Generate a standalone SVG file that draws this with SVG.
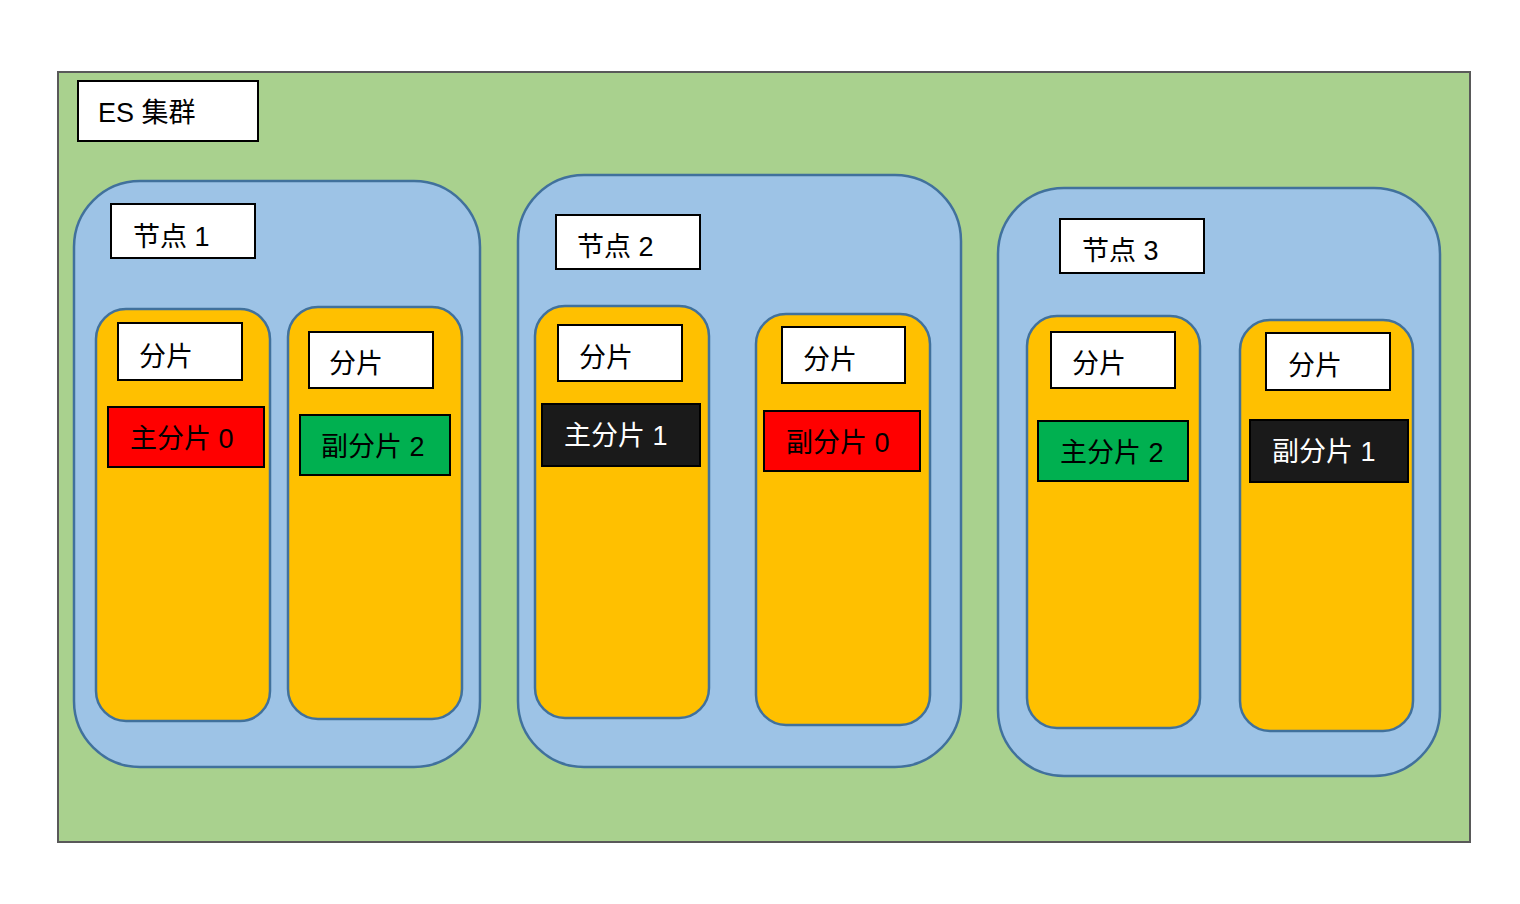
<svg xmlns="http://www.w3.org/2000/svg" width="1520" height="904" viewBox="0 0 1520 904">
<style>
.cluster{fill:#a9d18e;stroke:#595959;stroke-width:2}
.node{fill:#9dc3e6;stroke:#41719c;stroke-width:2.5}
.shard{fill:#ffc000;stroke:#41719c;stroke-width:2.5}
.lbl{fill:#ffffff;stroke:#000000;stroke-width:2}
.red{fill:#ff0000;stroke:#000000;stroke-width:2}
.green{fill:#00b050;stroke:#000000;stroke-width:2}
.black{fill:#1a1a1a;stroke:#000000;stroke-width:2}
text{font-family:"Liberation Sans","Noto Sans CJK SC",sans-serif;font-size:27px;fill:#000000}
.wt{fill:#ffffff}
</style>
<rect width="1520" height="904" fill="#ffffff"/>
<g id="cluster">
<rect class="cluster" x="58" y="72" width="1412" height="770"/>
<rect class="lbl" x="78" y="81" width="180" height="60"/>
<text x="98" y="122">ES 集群</text>
</g>
<g id="node1">
<rect class="node" x="74" y="181" width="406" height="586" rx="66" ry="66"/>
<rect class="lbl" x="111" y="204" width="144" height="54"/>
<text x="133" y="246">节点 1</text>
</g>
<g id="node1-shardA">
<rect class="shard" x="96" y="309" width="174" height="412" rx="30" ry="30"/>
<rect class="lbl" x="118" y="323" width="124" height="57"/>
<text x="139" y="366">分片</text>
<rect class="red" x="108" y="407" width="156" height="60"/>
<text x="130" y="448">主分片 0</text>
</g>
<g id="node1-shardB">
<rect class="shard" x="288" y="307" width="174" height="412" rx="30" ry="30"/>
<rect class="lbl" x="309" y="332" width="124" height="56"/>
<text x="329" y="373">分片</text>
<rect class="green" x="300" y="415" width="150" height="60"/>
<text x="321" y="456">副分片 2</text>
</g>
<g id="node2">
<rect class="node" x="518" y="175" width="443" height="592" rx="66" ry="66"/>
<rect class="lbl" x="556" y="215" width="144" height="54"/>
<text x="577" y="256">节点 2</text>
</g>
<g id="node2-shardA">
<rect class="shard" x="535" y="306" width="174" height="412" rx="30" ry="30"/>
<rect class="lbl" x="558" y="325" width="124" height="56"/>
<text x="579" y="367">分片</text>
<rect class="black" x="542" y="404" width="158" height="62"/>
<text class="wt" x="564" y="445">主分片 1</text>
</g>
<g id="node2-shardB">
<rect class="shard" x="756" y="314" width="174" height="411" rx="30" ry="30"/>
<rect class="lbl" x="782" y="327" width="123" height="56"/>
<text x="803" y="369">分片</text>
<rect class="red" x="764" y="411" width="156" height="60"/>
<text x="786" y="452">副分片 0</text>
</g>
<g id="node3">
<rect class="node" x="998" y="188" width="442" height="588" rx="66" ry="66"/>
<rect class="lbl" x="1060" y="219" width="144" height="54"/>
<text x="1082" y="260">节点 3</text>
</g>
<g id="node3-shardA">
<rect class="shard" x="1027" y="316" width="173" height="412" rx="30" ry="30"/>
<rect class="lbl" x="1051" y="332" width="124" height="56"/>
<text x="1072" y="373">分片</text>
<rect class="green" x="1038" y="421" width="150" height="60"/>
<text x="1060" y="462">主分片 2</text>
</g>
<g id="node3-shardB">
<rect class="shard" x="1240" y="320" width="173" height="411" rx="30" ry="30"/>
<rect class="lbl" x="1266" y="333" width="124" height="57"/>
<text x="1288" y="375">分片</text>
<rect class="black" x="1250" y="420" width="158" height="62"/>
<text class="wt" x="1272" y="461">副分片 1</text>
</g>
<g id="connectors"></g>
</svg>
